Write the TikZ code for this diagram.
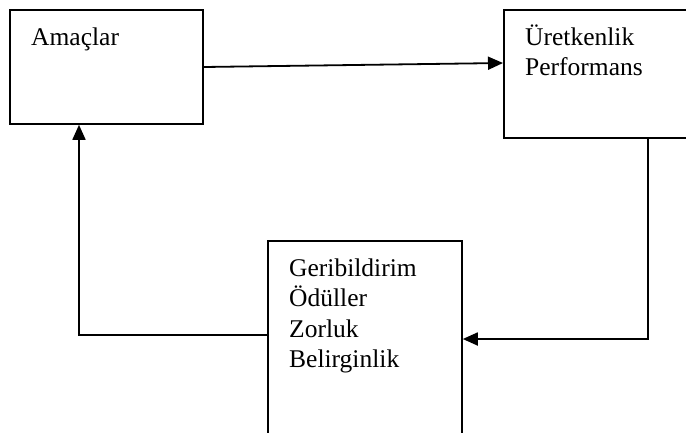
\documentclass[tikz,border=0pt]{standalone}
\usepackage{fontspec}
\setmainfont{Liberation Serif}
\usetikzlibrary{arrows.meta,calc}
\begin{document}
\begin{tikzpicture}[x=1pt,y=-1pt,
  box/.style={draw,line width=1.8pt,rectangle,inner sep=0pt,anchor=north west},
  lbl/.style={anchor=base west,inner sep=0pt,font=\fontsize{25.5}{30}\selectfont},
  conn/.style={line width=1.8pt,-{Triangle[length=15pt,width=13pt]}}]
\useasboundingbox (0,0) rectangle (686,432);
\clip (0,0) rectangle (686,432);
\fill[white] (0,0) rectangle (686,432);
\node[box,minimum width=193pt,minimum height=114pt] (A) at (9,9) {};
\node[box,minimum width=200pt,minimum height=128pt] (U) at (503,9) {};
\node[box,minimum width=194pt,minimum height=220pt] (G) at (267,240) {};
\node[lbl] (tA) at (31,45) {Amaçlar};
\node[lbl] (tU1) at (525,45) {Üretkenlik};
\node[lbl] (tU2) at (525,75) {Performans};
\node[lbl] (tG1) at (289,276) {Geribildirim};
\node[lbl] (tG2) at (289,306) {Ödüller};
\node[lbl] (tG3) at (289,337) {Zorluk};
\node[lbl] (tG4) at (289,367) {Belirginlik};
\coordinate (a1) at ($(A.north east)+(0,58)$);
\coordinate (u1) at ($(U.north west)+(0,54)$);
\draw[conn] (a1) -- (u1);
\coordinate (u2) at ($(U.south west)+(145,0)$);
\coordinate (g1) at ($(G.north east)+(0,99)$);
\draw[conn] (u2) |- (g1);
\coordinate (g2) at ($(G.north west)+(0,95)$);
\coordinate (a2) at ($(A.south west)+(70,0)$);
\draw[conn] (g2) -| (a2);
\end{tikzpicture}
\end{document}
